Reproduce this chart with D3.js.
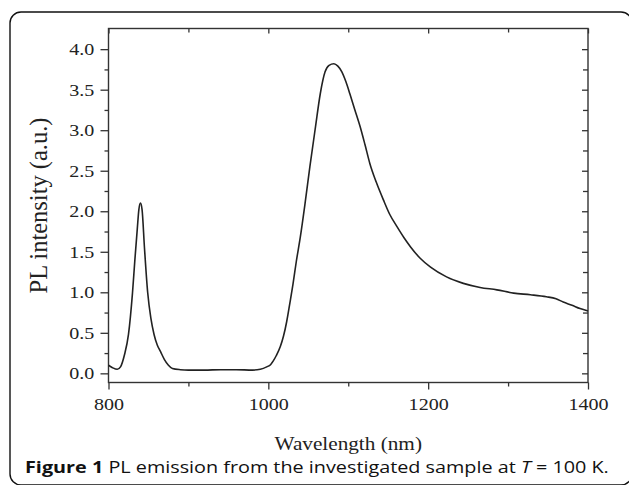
<!DOCTYPE html>
<html>
<head>
<meta charset="utf-8">
<script src="https://cdn.jsdelivr.net/npm/d3@7"></script>
<style>
  body { margin: 0; background: #fff; }
</style>
</head>
<body>
<div id="chart"></div>
<script>
const width = 629
const height = 485

// PL spectrum
const wavelength = [800, 805, 811, 815, 820, 825, 830, 833, 836, 838, 840, 842, 845, 849, 853, 857, 861, 865, 870, 875, 880, 890,
    900, 920, 940, 960, 980, 990, 998, 1003, 1006, 1010, 1015, 1019, 1023, 1027, 1031, 1035, 1040, 1046, 1052, 1059, 1065,
    1071, 1076, 1082, 1087, 1092, 1097, 1102, 1108, 1115, 1121, 1127, 1135, 1144, 1152, 1161, 1170, 1178, 1190, 1203,
    1223, 1244, 1265, 1286, 1307, 1328, 1348, 1360, 1369, 1380, 1390, 1400]
const intensity = [0.10, 0.07, 0.05, 0.08, 0.23, 0.48, 0.99, 1.40, 1.78, 2.02, 2.10, 2.02, 1.55, 1.00, 0.68, 0.48, 0.35, 0.27, 0.17, 0.10, 0.06, 0.045,
    0.04, 0.04, 0.045, 0.045, 0.04, 0.05, 0.08, 0.11, 0.15, 0.22, 0.33, 0.46, 0.64, 0.87, 1.11, 1.38, 1.68, 2.10, 2.55, 3.04, 3.45,
    3.72, 3.80, 3.82, 3.79, 3.72, 3.60, 3.45, 3.26, 3.04, 2.82, 2.59, 2.36, 2.14, 1.96, 1.81, 1.67, 1.56, 1.42, 1.31,
    1.19, 1.11, 1.06, 1.03, 0.99, 0.97, 0.945, 0.92, 0.88, 0.84, 0.80, 0.77]

const xTicks = [800, 1000, 1200, 1400]
const xMinor = [900, 1100, 1300]
const yTicks = [0.0, 0.5, 1.0, 1.5, 2.0, 2.5, 3.0, 3.5, 4.0]
const yMinor = [0.25, 0.75, 1.25, 1.75, 2.25, 2.75, 3.25, 3.75]

const plot = {left: 108.5, right: 588, top: 28.5, bottom: 382.5}
const serif = "'Liberation Serif', 'Times New Roman', serif"
const stretch = "scale(1.18,1)"

const svg = d3.select("#chart").append("svg")
    .attr("width", width)
    .attr("height", height)

// rounded figure box
svg.append("rect")
    .attr("x", 10)
    .attr("y", 12)
    .attr("width", 622)
    .attr("height", 473)
    .attr("rx", 11)
    .attr("fill", "white")
    .attr("stroke", "#111")
    .attr("stroke-width", 1.4)

const x = d3.scaleLinear().domain([800, 1400]).range([plot.left, plot.right])
const y = d3.scaleLinear().domain([-0.113, 4.255]).range([plot.bottom, plot.top])

const axisColor = "#333"

function styleAxis(g) {
    g.select(".domain").remove()
    g.selectAll("line").attr("stroke", axisColor).attr("stroke-width", 1.3)
    g.selectAll("text")
        .attr("font-family", serif)
        .attr("font-size", 17)
        .attr("fill", "#222")
        .attr("transform", stretch)
}

// bottom axis, ticks outward
svg.append("g")
    .attr("transform", `translate(0,${plot.bottom})`)
    .call(d3.axisBottom(x).tickValues(xTicks).tickSize(7).tickPadding(8).tickFormat(d3.format("d")))
    .call(styleAxis)
svg.append("g")
    .attr("transform", `translate(0,${plot.bottom})`)
    .call(d3.axisBottom(x).tickValues(xMinor).tickSize(4).tickFormat(""))
    .call(styleAxis)

// left axis, ticks outward
svg.append("g")
    .attr("transform", `translate(${plot.left},0)`)
    .call(d3.axisLeft(y).tickValues(yTicks).tickSize(8).tickPadding(4).tickFormat(d3.format(".1f")))
    .call(styleAxis)
svg.append("g")
    .attr("transform", `translate(${plot.left},0)`)
    .call(d3.axisLeft(y).tickValues(yMinor).tickSize(4).tickFormat(""))
    .call(styleAxis)

// top and right mirror ticks, pointing inward
svg.append("g")
    .attr("transform", `translate(0,${plot.top})`)
    .call(d3.axisBottom(x).tickValues(xTicks).tickSize(5).tickFormat(""))
    .call(styleAxis)
svg.append("g")
    .attr("transform", `translate(0,${plot.top})`)
    .call(d3.axisBottom(x).tickValues(xMinor).tickSize(4).tickFormat(""))
    .call(styleAxis)
svg.append("g")
    .attr("transform", `translate(${plot.right},0)`)
    .call(d3.axisLeft(y).tickValues(yTicks).tickSize(6).tickFormat(""))
    .call(styleAxis)
svg.append("g")
    .attr("transform", `translate(${plot.right},0)`)
    .call(d3.axisLeft(y).tickValues(yMinor).tickSize(5).tickFormat(""))
    .call(styleAxis)

// frame
svg.append("rect")
    .attr("x", plot.left)
    .attr("y", plot.top)
    .attr("width", plot.right - plot.left)
    .attr("height", plot.bottom - plot.top)
    .attr("fill", "none")
    .attr("stroke", axisColor)
    .attr("stroke-width", 1.4)

// spectrum
const line = d3.line()
    .x((d, i) => x(wavelength[i]))
    .y(d => y(d))
    .curve(d3.curveMonotoneX)

svg.append("path")
    .datum(intensity)
    .attr("d", line)
    .attr("fill", "none")
    .attr("stroke", "#222")
    .attr("stroke-width", 1.6)

// axis titles
svg.append("text")
    .attr("transform", `translate(${(plot.left + plot.right) / 2},450) ${stretch}`)
    .attr("text-anchor", "middle")
    .attr("font-family", serif)
    .attr("font-size", 18)
    .attr("fill", "#222")
    .text("Wavelength (nm)")

svg.append("text")
    .attr("transform", `translate(47,${(plot.top + plot.bottom) / 2}) scale(1.05,1) rotate(-90)`)
    .attr("text-anchor", "middle")
    .attr("font-family", serif)
    .attr("font-size", 24.5)
    .attr("fill", "#222")
    .text("PL intensity (a.u.)")

// caption
const caption = svg.append("text")
    .attr("transform", "translate(25,473) scale(1.2,1)")
    .attr("font-family", "'Open Sans', 'Noto Sans', sans-serif")
    .attr("font-size", 16.5)
    .attr("fill", "#111")
caption.append("tspan").attr("font-weight", "bold").text("Figure 1")
caption.append("tspan").text(" PL emission from the investigated sample at ")
caption.append("tspan").attr("font-style", "italic").text("T")
caption.append("tspan").text(" = 100 K.")
</script>
</body>
</html>
